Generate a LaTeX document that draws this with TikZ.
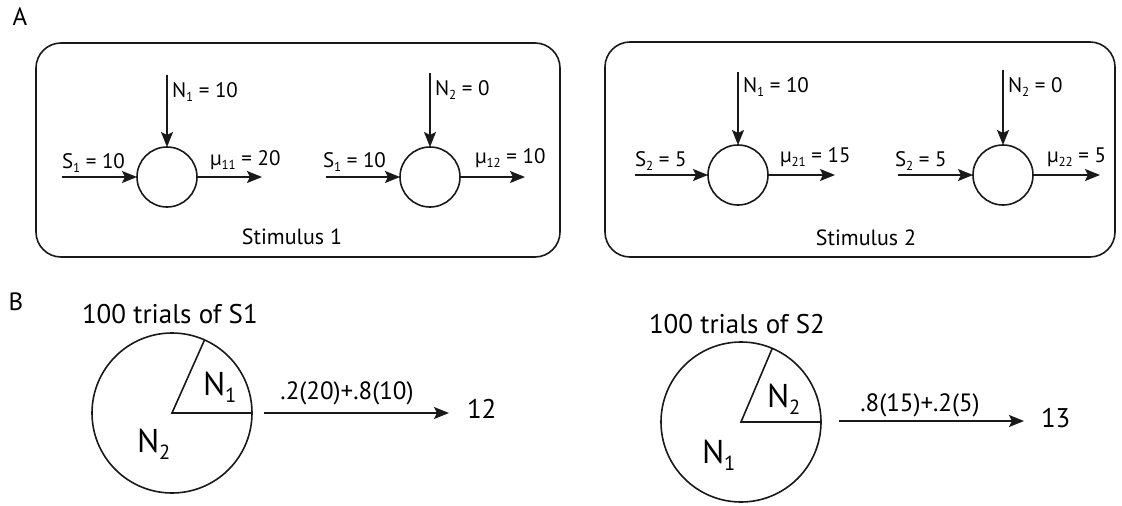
\documentclass[tikz,border=0pt]{standalone}
\usepackage{fontspec}
\usepackage{graphicx}
\setmainfont{PT Sans}
\usetikzlibrary{arrows.meta}
\newcommand\subs[1]{\raisebox{-0.22em}{\scalebox{0.62}{#1}}}
\newcommand\fs[1]{\fontsize{#1}{#1}\selectfont}
\tikzset{
  every node/.style={inner sep=0pt, outer sep=0pt},
  ln/.style={line width=1.6pt, draw=black!90},
  arr/.style={ln, -{Stealth[length=15pt,width=12pt,inset=3pt]}},
  unit/.style={circle, ln, minimum size=60pt},
  pie/.style={circle, ln, minimum size=160pt},
  panel/.style={ln, rounded corners=25pt},
  lab/.style={anchor=base west, font=\fs{21}},
  stimlab/.style={anchor=base, font=\fs{22}},
  big/.style={anchor=base west, font=\fs{27}},
  pl/.style={anchor=base west, font=\fs{33}},
}
\begin{document}
\begin{tikzpicture}[x=1pt,y=-1pt]
\useasboundingbox (0,0) rectangle (1122,506);
% panel letters
\node[anchor=base, font=\fs{25}] (A) at (20,25) {A};
\node[anchor=base, font=\fs{25}] (B) at (16,310) {B};
% boxes
\draw[panel] (36,43) rectangle (560,257);
\draw[panel] (605,42) rectangle (1115,257);
% ---- box 1, unit 1
\node[unit] (c11) at (167,177) {};
\coordinate (t11) at (167,75);
\coordinate (l11) at (62,177);
\coordinate (r11) at (262,177);
\draw[arr] (t11) -- (c11.north);
\draw[arr] (l11) -- (c11.west);
\draw[arr] (c11.east) -- (r11);
\node[lab] (n11) at (172,97) {N\subs{1} = 10};
\node[lab] (s11) at (62,168) {S\subs{1} = 10};
\node[lab] (m11) at (210,165) {µ\subs{11} = 20};
% ---- box 1, unit 2
\node[unit] (c12) at (430,177) {};
\coordinate (t12) at (430,73);
\coordinate (l12) at (326,177);
\coordinate (r12) at (525,177);
\draw[arr] (t12) -- (c12.north);
\draw[arr] (l12) -- (c12.west);
\draw[arr] (c12.east) -- (r12);
\node[lab] (n12) at (435,95) {N\subs{2} = 0};
\node[lab] (s12) at (323,167) {S\subs{1} = 10};
\node[lab] (m12) at (475,163) {µ\subs{12} = 10};
\node[stimlab] (st1) at (292,244) {Stimulus 1};
% ---- box 2, unit 1
\node[unit] (c21) at (738,175) {};
\coordinate (t21) at (738,72);
\coordinate (l21) at (635,175);
\coordinate (r21) at (835,175);
\draw[arr] (t21) -- (c21.north);
\draw[arr] (l21) -- (c21.west);
\draw[arr] (c21.east) -- (r21);
\node[lab] (n21) at (743,92) {N\subs{1} = 10};
\node[lab] (s21) at (635,166) {S\subs{2} = 5};
\node[lab] (m21) at (780,162) {µ\subs{21} = 15};
% ---- box 2, unit 2
\node[unit] (c22) at (1003,175) {};
\coordinate (t22) at (1003,70);
\coordinate (l22) at (898,175);
\coordinate (r22) at (1100,175);
\draw[arr] (t22) -- (c22.north);
\draw[arr] (l22) -- (c22.west);
\draw[arr] (c22.east) -- (r22);
\node[lab] (n22) at (1008,92) {N\subs{2} = 0};
\node[lab] (s22) at (895,166) {S\subs{2} = 5};
\node[lab] (m22) at (1047,162) {µ\subs{22} = 5};
\node[stimlab] (st2) at (866,245) {Stimulus 2};
% ---- panel B, pie 1
\node[big] (h1) at (82,323) {100 trials of S1};
\node[pie] (p1) at (172,413) {};
\draw[ln, line join=miter] (p1.66) -- (p1.center) -- (p1.east);
\node[pl] (pn11) at (203,395) {N\subs{1}};
\node[pl] (pn12) at (137,452) {N\subs{2}};
\coordinate (a1s) at (264,413);
\coordinate (a1e) at (449,413);
\draw[arr] (a1s) -- (a1e);
\node[anchor=base, font=\fs{25}] (f1) at (347,399) {.2(20)+.8(10)};
\node[big] (res1) at (467,418) {12};
% ---- panel B, pie 2
\node[big] (h2) at (649,333) {100 trials of S2};
\node[pie] (p2) at (741,422) {};
\draw[ln, line join=miter] (p2.67) -- (p2.center) -- (p2.east);
\node[pl] (pn21) at (767,407) {N\subs{2}};
\node[pl] (pn22) at (702,463) {N\subs{1}};
\coordinate (a2s) at (839,421);
\coordinate (a2e) at (1024,421);
\draw[arr] (a2s) -- (a2e);
\node[anchor=base, font=\fs{25}] (f2) at (920,411) {.8(15)+.2(5)};
\node[big] (res2) at (1041,427) {13};
\end{tikzpicture}
\end{document}
